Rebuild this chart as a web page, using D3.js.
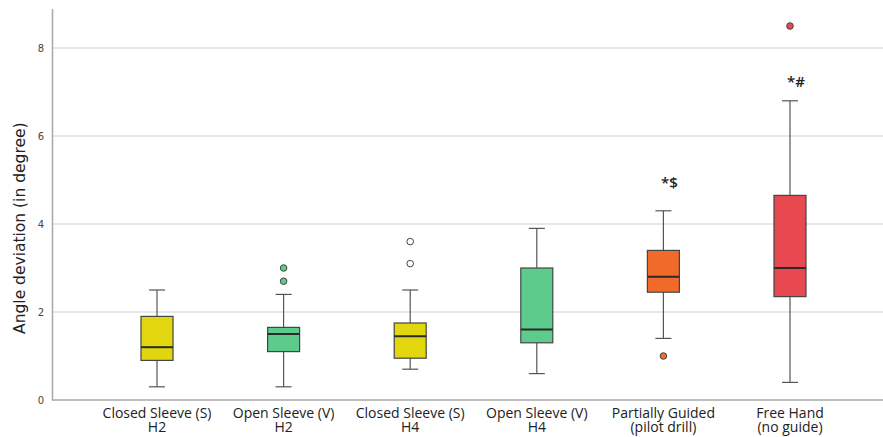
<!DOCTYPE html>
<html>
<head>
<meta charset="utf-8">
<script src="https://cdn.jsdelivr.net/npm/d3@7/dist/d3.min.js"></script>
<style>
  body { margin: 0; background: #fff; }
  svg { display: block; font-family: 'DejaVu Sans', sans-serif; }
</style>
</head>
<body>
<svg id="chart"></svg>
<script>
// groups (two-line labels)
const groups = ['CS_H2', 'OS_H2', 'CS_H4', 'OS_H4', 'PG', 'FH'];
const labelTop = ['Closed Sleeve (S)', 'Open Sleeve (V)', 'Closed Sleeve (S)', 'Open Sleeve (V)', 'Partially Guided', 'Free Hand'];
const labelBottom = ['H2', 'H2', 'H4', 'H4', '(pilot drill)', '(no guide)'];

// box stats
const whiskerLow = [0.3, 0.3, 0.7, 0.6, 1.4, 0.4];
const q1 = [0.9, 1.1, 0.95, 1.3, 2.45, 2.35];
const median = [1.2, 1.5, 1.45, 1.6, 2.8, 3.0];
const q3 = [1.9, 1.65, 1.75, 3.0, 3.4, 4.65];
const whiskerHigh = [2.5, 2.4, 2.5, 3.9, 4.3, 6.8];
const outliers = [[], [3.0, 2.7], [3.6, 3.1], [], [1.0], [8.5]];
const annotations = ['', '', '', '', '*$', '*#'];
const annotationY = [0, 0, 0, 0, 4.82, 7.12];

const boxColors = ['#e2d60f', '#5ccb8b', '#e2d60f', '#5ccb8b', '#f26a2a', '#e8484f'];
const outlierFill = ['#e2d60f', '#5ccb8b', '#ffffff', '#5ccb8b', '#f26a2a', '#e8484f'];

const yTicks = [0, 2, 4, 6, 8];

const width = 883, height = 437;
const svg = d3.select('#chart').attr('width', width).attr('height', height);

const margin = {left: 52, right: 0, top: 8, bottom: 37};
const plotBottom = height - margin.bottom;

const x = d3.scalePoint()
  .domain(groups)
  .range([157, 790]);

const y = d3.scaleLinear()
  .domain([0, 8.9])
  .range([plotBottom, plotBottom - 8.9 * 44]);

// grid lines
svg.append('g')
  .selectAll('line')
  .data(yTicks.filter(d => d > 0))
  .join('line')
    .attr('x1', margin.left)
    .attr('x2', width)
    .attr('y1', d => y(d))
    .attr('y2', d => y(d))
    .attr('stroke', '#d0d0d0')
    .attr('stroke-width', 1.2);

// y axis
const yAxis = d3.axisLeft(y).tickValues(yTicks).tickSize(0).tickPadding(8);
const yg = svg.append('g')
  .attr('transform', `translate(${margin.left},0)`)
  .call(yAxis);
yg.select('.domain').attr('stroke', '#a8a8a8').attr('stroke-width', 1.5);
yg.selectAll('text').attr('font-size', 10).attr('fill', '#444')
  .attr('font-family', "'DejaVu Sans', sans-serif");

// x axis line
svg.append('line')
  .attr('x1', margin.left).attr('x2', width)
  .attr('y1', plotBottom).attr('y2', plotBottom)
  .attr('stroke', '#a8a8a8').attr('stroke-width', 1.5);

// y title
svg.append('text')
  .attr('transform', `translate(25,${(y(0) + y(8.9)) / 2 + 24}) rotate(-90)`)
  .attr('text-anchor', 'middle')
  .attr('font-size', 15.5)
  .attr('fill', '#222')
  .text('Angle deviation (in degree)');

// x labels
const xl = svg.append('g').selectAll('text')
  .data(groups)
  .join('text')
    .attr('x', d => x(d))
    .attr('y', 418)
    .attr('text-anchor', 'middle')
    .attr('font-family', "'Open Sans', sans-serif")
    .attr('font-size', 14)
    .attr('fill', '#222');
xl.append('tspan').attr('x', d => x(d)).text((d, i) => labelTop[i]);
xl.append('tspan').attr('x', d => x(d)).attr('dy', 14).text((d, i) => labelBottom[i]);

// boxes
const boxW = 32, capW = 16;
const boxes = svg.append('g').selectAll('g')
  .data(groups)
  .join('g');

boxes.append('line')
  .attr('x1', d => x(d)).attr('x2', d => x(d))
  .attr('y1', (d, i) => y(whiskerLow[i]))
  .attr('y2', (d, i) => y(whiskerHigh[i]))
  .attr('stroke', '#555').attr('stroke-width', 1.2);

boxes.selectAll('line.cap')
  .data((d, i) => [whiskerLow[i], whiskerHigh[i]].map(v => ({g: d, v})))
  .join('line')
    .attr('class', 'cap')
    .attr('x1', d => x(d.g) - capW / 2)
    .attr('x2', d => x(d.g) + capW / 2)
    .attr('y1', d => y(d.v))
    .attr('y2', d => y(d.v))
    .attr('stroke', '#555').attr('stroke-width', 1.2);

boxes.append('rect')
  .attr('x', d => x(d) - boxW / 2)
  .attr('width', boxW)
  .attr('y', (d, i) => y(q3[i]))
  .attr('height', (d, i) => y(q1[i]) - y(q3[i]))
  .attr('fill', (d, i) => boxColors[i])
  .attr('stroke', '#444').attr('stroke-width', 1.2);

boxes.append('line')
  .attr('x1', d => x(d) - boxW / 2)
  .attr('x2', d => x(d) + boxW / 2)
  .attr('y1', (d, i) => y(median[i]))
  .attr('y2', (d, i) => y(median[i]))
  .attr('stroke', '#2a2a2a').attr('stroke-width', 2);

boxes.selectAll('circle')
  .data((d, i) => outliers[i].map(v => ({g: d, i, v})))
  .join('circle')
    .attr('cx', d => x(d.g))
    .attr('cy', d => y(d.v))
    .attr('r', 3.3)
    .attr('fill', d => outlierFill[d.i])
    .attr('stroke', '#444').attr('stroke-width', 1);

boxes.append('text')
  .attr('x', d => x(d) + 6)
  .attr('y', (d, i) => y(annotationY[i]))
  .attr('text-anchor', 'middle')
  .attr('font-family', "'Open Sans', sans-serif")
  .attr('font-size', 15)
  .attr('font-weight', 600)
  .attr('fill', '#222')
  .text((d, i) => annotations[i]);
</script>
</body>
</html>
